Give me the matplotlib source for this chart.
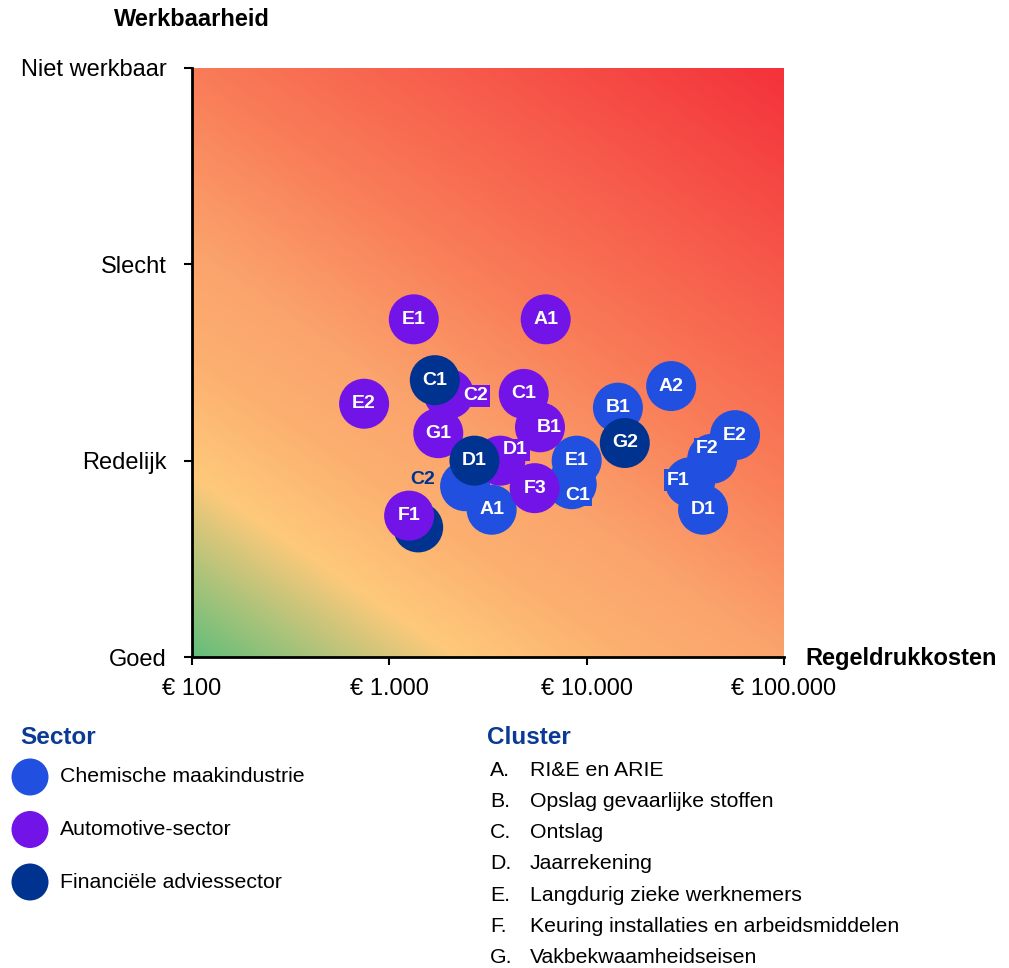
import numpy as np
import matplotlib
matplotlib.use("Agg")
import matplotlib.pyplot as plt
from matplotlib.colors import LinearSegmentedColormap
from matplotlib.ticker import FixedLocator, FuncFormatter, NullLocator

plt.rcParams['font.family'] = ['Liberation Sans', 'DejaVu Sans']

sectors = ["Chemische maakindustrie", "Automotive-sector", "Financiële adviessector"]
sector_colors = ["#2150e0", "#7213e8", "#00338f"]

cluster_letters = ["A.", "B.", "C.", "D.", "E.", "F.", "G."]
cluster_names = ["RI&E en ARIE", "Opslag gevaarlijke stoffen", "Ontslag", "Jaarrekening",
                 "Langdurig zieke werknemers", "Keuring installaties en arbeidsmiddelen",
                 "Vakbekwaamheidseisen"]

y_levels = ["Goed", "Redelijk", "Slecht", "Niet werkbaar"]
x_ticks = [100, 1000, 10000, 100000]

# points in drawing order (later ones on top)
point_labels = ["", "A1", "C1", "E1", "B1", "A2", "F1", "D1", "F2", "E2",
                "C2",
                "E1", "A1", "E2", "C2", "G1", "C1", "B1", "D1", "F3", "F1",
                "C1", "D1", "G2"]
point_sector = [0, 0, 0, 0, 0, 0, 0, 0, 0, 0,
                2,
                1, 1, 1, 1, 1, 1, 1, 1, 1, 1,
                2, 2, 2]
cost = [2420, 3300, 8400, 8900, 14400, 26800, 33400, 38900, 43300, 56500,
        1400,
        1330, 6200, 745, 2000, 1770, 4800, 5800, 3650, 5450, 1260,
        1700, 2700, 15600]
score = [0.87, 0.75, 0.88, 1.0, 1.27, 1.38, 0.89, 0.75, 1.01, 1.13,
         0.66,
         1.72, 1.72, 1.29, 1.34, 1.14, 1.34, 1.17, 1.0, 0.86, 0.72,
         1.41, 1.0, 1.09]

# label placement tweaks (pixels, dx right / dy down) and style
label_offsets = {(0, "C1"): (6, 11), (0, "F1"): (-12, -2), (0, "F2"): (-5, -10),
                 (1, "C2"): (27, 2), (1, "D1"): (15, -11), (1, "B1"): (9, 0),
                 (2, "C2"): (4, -48)}
boxed = {(0, "C1"), (0, "F1"), (0, "F2"), (1, "C2"), (1, "D1")}
outside = {(2, "C2")}

W, H = 1009, 968
fig = plt.figure(figsize=(W / 100, H / 100), dpi=100)
rect = [192 / W, 1 - 657 / H, (784 - 192) / W, (657 - 68) / H]

# background gradient
bg = fig.add_axes(rect, zorder=0)
U, V = np.meshgrid(np.linspace(0, 1, 400), np.linspace(0, 1, 400))
T = (0.31 * U + 0.45 * V) / 0.76
cmap = LinearSegmentedColormap.from_list("werk", [(0, "#63be7b"), (0.18, "#fec97a"),
                                                  (0.30, "#fcb070"), (0.41, "#fba36c"),
                                                  (0.59, "#f97c58"), (1, "#f4323b")])
bg.imshow(T, cmap=cmap, origin="lower", extent=[0, 1, 0, 1], aspect="auto", vmin=0, vmax=1,
          interpolation="bilinear")
bg.axis("off")

ax = fig.add_axes(rect, zorder=1)
ax.patch.set_alpha(0)
ax.set_xscale("log")
ax.set_xlim(100, 100000)
ax.set_ylim(0, 3)

for i in range(len(point_labels)):
    s = point_sector[i]
    ax.scatter(cost[i], score[i], s=1296, color=sector_colors[s], edgecolors="none",
               zorder=3 + i * 0.01, clip_on=False)

for i in range(len(point_labels)):
    lab = point_labels[i]
    if not lab:
        continue
    key = (point_sector[i], lab)
    dx, dy = label_offsets.get(key, (0, 0))
    kw = dict(color="white")
    if key in boxed:
        kw["bbox"] = dict(boxstyle="square,pad=0.12", fc=sector_colors[point_sector[i]], ec="none")
    if key in outside:
        kw["color"] = sector_colors[point_sector[i]]
    ax.annotate(lab, (cost[i], score[i]), xytext=(dx * 0.72, -dy * 0.72), textcoords="offset points",
                ha="center", va="center", fontsize=14, fontweight="bold", zorder=10, **kw)

ax.xaxis.set_major_locator(FixedLocator(x_ticks))
ax.xaxis.set_minor_locator(NullLocator())
ax.xaxis.set_major_formatter(FuncFormatter(lambda v, p: "€ " + f"{int(v):,}".replace(",", ".")))
ax.set_yticks(range(len(y_levels)))
ax.set_yticklabels(y_levels)
ax.tick_params(axis="both", length=6, width=1.5, labelsize=17, color="black")
ax.tick_params(axis="x", pad=9)
ax.tick_params(axis="y", pad=12)
for side in ["top", "right"]:
    ax.spines[side].set_visible(False)
for side in ["left", "bottom"]:
    ax.spines[side].set_linewidth(2)
    ax.spines[side].set_zorder(20)

fig.text(192 / W, 1 - 20 / H, "Werkbaarheid", ha="center", va="center", fontsize=17, fontweight="bold")
fig.text(805 / W, 1 - 659 / H, "Regeldrukkosten", ha="left", va="center", fontsize=17, fontweight="bold")

# legends
lax = fig.add_axes([0, 0, 1, 1], zorder=-1)
lax.set_xlim(0, W)
lax.set_ylim(H, 0)
lax.axis("off")
title_color = "#0a3a94"
lax.text(20, 738, "Sector", ha="left", va="center", fontsize=17.5, fontweight="bold", color=title_color)
for k, name in enumerate(sectors):
    yy = 777 + k * 52.5
    lax.scatter(30, yy, s=(37 * 0.72) ** 2, color=sector_colors[k], edgecolors="none")
    lax.text(60, yy, name, ha="left", va="center", fontsize=15.3)

lax.text(487, 738, "Cluster", ha="left", va="center", fontsize=17.5, fontweight="bold", color=title_color)
for k, (let, name) in enumerate(zip(cluster_letters, cluster_names)):
    yy = 770 + k * 31.3
    lax.text(490, yy, let, ha="left", va="center", fontsize=15.3)
    lax.text(530, yy, name, ha="left", va="center", fontsize=15.3)

fig.savefig("out.png", dpi=100)
